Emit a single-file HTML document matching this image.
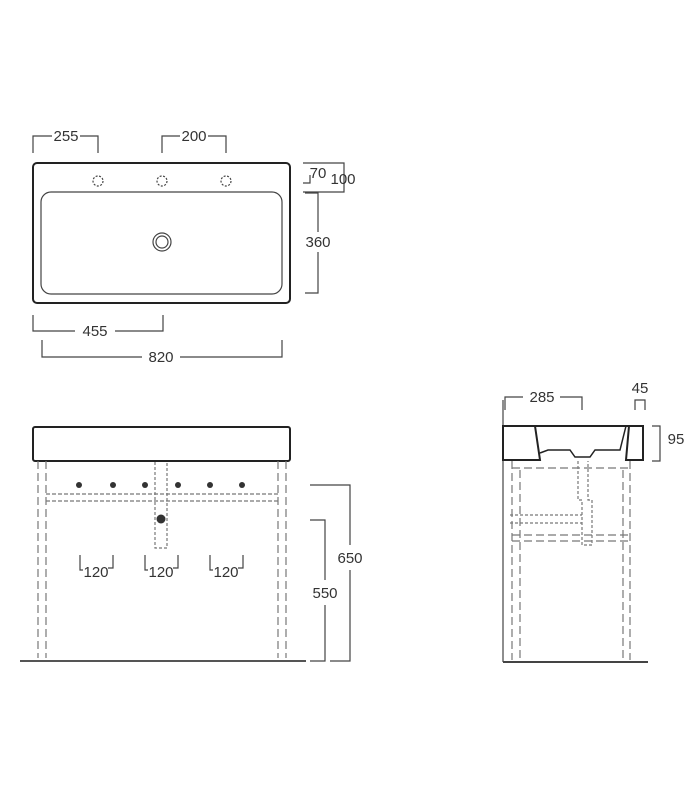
<!DOCTYPE html>
<html><head><style>
html,body{margin:0;padding:0;background:#fff;}
svg{display:block;font-family:"Liberation Sans",sans-serif;}
</style></head><body>
<svg width="700" height="800" viewBox="0 0 700 800" xmlns="http://www.w3.org/2000/svg">
<g fill="none" stroke="#444" stroke-width="1.2">
<rect x="33" y="163" width="257" height="140" rx="4" stroke="#222" stroke-width="2"/>
<rect x="41" y="192" width="241" height="102" rx="10"/>
<circle cx="98" cy="181" r="5" stroke-dasharray="2 1.5"/>
<circle cx="162" cy="181" r="5" stroke-dasharray="2 1.5"/>
<circle cx="226" cy="181" r="5" stroke-dasharray="2 1.5"/>
<circle cx="162" cy="242" r="9"/><circle cx="162" cy="242" r="6"/>
<polyline points="33,153 33,136 52,136"/><polyline points="80,136 98,136 98,153"/>
<polyline points="162,153 162,136 180,136"/><polyline points="208,136 226,136 226,153"/>
<polyline points="303,163 344,163 344,192 303,192"/>
<polyline points="303,183 310,183 310,175"/>
<polyline points="305,193 318,193 318,232"/><polyline points="318,252 318,293 305,293"/>
<polyline points="33,315 33,331 75,331"/><polyline points="115,331 163,331 163,315"/>
<polyline points="42,340 42,357 142,357"/><polyline points="180,357 282,357 282,340"/>
<rect x="33" y="427" width="257" height="34" rx="2" stroke="#222" stroke-width="2"/>
<g stroke-dasharray="8 4" stroke="#777">
<line x1="38" y1="461" x2="38" y2="658"/><line x1="46" y1="461" x2="46" y2="658"/>
<line x1="278" y1="461" x2="278" y2="658"/><line x1="286" y1="461" x2="286" y2="658"/>
<line x1="46" y1="494" x2="278" y2="494" stroke-dasharray="4 2"/>
<line x1="46" y1="501" x2="278" y2="501" stroke-dasharray="4 2"/>
<polyline points="155,462 155,548 167,548 167,462" stroke-dasharray="3 2"/>
</g>
<line x1="20" y1="661" x2="306" y2="661" stroke="#555" stroke-width="2"/>
<g fill="#333" stroke="none">
<circle cx="79" cy="485" r="3"/><circle cx="113" cy="485" r="3"/><circle cx="145" cy="485" r="3"/>
<circle cx="178" cy="485" r="3"/><circle cx="210" cy="485" r="3"/><circle cx="242" cy="485" r="3"/>
<circle cx="161" cy="519" r="4.5"/>
</g>
<polyline points="80,555 80,570 83,570"/><polyline points="113,555 113,568 108,568"/>
<polyline points="145,555 145,570 148,570"/><polyline points="178,555 178,568 173,568"/>
<polyline points="210,555 210,570 213,570"/><polyline points="243,555 243,568 238,568"/>
<polyline points="310,485 350,485 350,545"/><polyline points="350,570 350,661 330,661"/>
<polyline points="310,520 325,520 325,580"/><polyline points="325,605 325,661 310,661"/>
<line x1="503" y1="400" x2="503" y2="662"/>
<line x1="503" y1="662" x2="648" y2="662" stroke-width="2"/>
<path d="M503,426 H535 L540,460 H503 Z" stroke="#222" stroke-width="2"/>
<path d="M535,426 H640 M629,426 H643 V460 H626 Z" stroke="#222" stroke-width="2"/>
<path d="M540,453 L548,450 H570 L575,457 H590 L595,450 H620 L626,426" stroke="#222" stroke-width="1.5"/>
<g stroke-dasharray="8 4" stroke="#777">
<line x1="512" y1="461" x2="512" y2="660"/><line x1="520" y1="470" x2="520" y2="660"/>
<line x1="623" y1="470" x2="623" y2="660"/><line x1="630" y1="461" x2="630" y2="660"/>
<line x1="512" y1="468" x2="630" y2="468"/>
<line x1="512" y1="535" x2="630" y2="535"/><line x1="512" y1="541" x2="630" y2="541"/>
<path d="M578,461 V500 H582 V545 H592 V500 H588 V461 M510,515 H582 M510,523 H582" stroke-dasharray="3 2"/>
</g>
<polyline points="505,410 505,397 523,397"/><polyline points="560,397 582,397 582,410"/>
<polyline points="635,410 635,400 645,400 645,410"/>
<polyline points="652,426 660,426 660,461 652,461"/>
</g>
<g fill="#333" font-size="15" text-anchor="middle">
<text x="66" y="141">255</text><text x="194" y="141">200</text>
<text x="318" y="178">70</text><text x="343" y="184">100</text>
<text x="318" y="247">360</text>
<text x="95" y="336">455</text><text x="161" y="362">820</text>
<text x="96" y="577">120</text><text x="161" y="577">120</text><text x="226" y="577">120</text>
<text x="350" y="563">650</text><text x="325" y="598">550</text>
<text x="542" y="402">285</text><text x="640" y="393">45</text><text x="676" y="444">95</text>
</g>
</svg>
</body></html>
